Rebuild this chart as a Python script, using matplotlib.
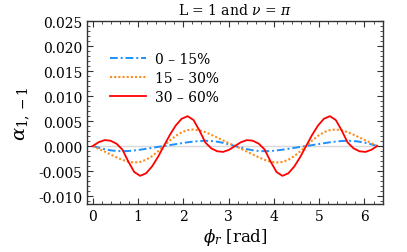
import numpy as np
import matplotlib
matplotlib.use('Agg')
import matplotlib.pyplot as plt
from matplotlib.ticker import MultipleLocator, FormatStrFormatter

plt.rcParams['font.family'] = 'DejaVu Serif'
plt.rcParams['mathtext.fontset'] = 'dejavuserif'

# sampling grid in phi_r, 0 .. 2pi
phi = np.linspace(0, 2 * np.pi, 49)

labels = ['0 \u2013 15%', '15 \u2013 30%', '30 \u2013 60%']

# values, units of 1e-3
a_0_15 = [0.00, -0.33, -0.63, -0.86, -1.00, -1.04, -1.00, -0.89, -0.74, -0.56, -0.37, -0.18,
          0.00, 0.18, 0.37, 0.56, 0.74, 0.89, 1.00, 1.04, 1.00, 0.86, 0.63, 0.33,
          0.00, -0.33, -0.63, -0.86, -1.00, -1.04, -1.00, -0.89, -0.74, -0.56, -0.37, -0.18,
          0.00, 0.18, 0.37, 0.56, 0.74, 0.89, 1.00, 1.04, 1.00, 0.86, 0.63, 0.33, 0.00]
a_15_30 = [0.00, -0.55, -1.11, -1.69, -2.26, -2.77, -3.14, -3.30, -3.18, -2.75, -2.03, -1.08,
           0.00, 1.08, 2.03, 2.75, 3.18, 3.30, 3.14, 2.77, 2.26, 1.69, 1.11, 0.55,
           0.00, -0.55, -1.11, -1.69, -2.26, -2.77, -3.14, -3.30, -3.18, -2.75, -2.03, -1.08,
           0.00, 1.08, 2.03, 2.75, 3.18, 3.30, 3.14, 2.77, 2.26, 1.69, 1.11, 0.55, 0.00]
a_30_60 = [0.00, 0.76, 1.18, 1.06, 0.47, -0.70, -3.10, -5.20, -5.97, -5.45, -4.10, -2.20,
           0.00, 2.20, 4.10, 5.45, 5.97, 5.20, 3.10, 0.70, -0.47, -1.06, -1.18, -0.76,
           0.00, 0.76, 1.18, 1.06, 0.47, -0.70, -3.10, -5.20, -5.97, -5.45, -4.10, -2.20,
           0.00, 2.20, 4.10, 5.45, 5.97, 5.20, 3.10, 0.70, -0.47, -1.06, -1.18, -0.76, 0.00]

fig = plt.figure(figsize=(4.07, 2.53), dpi=100)
ax = fig.add_axes([0.2138, 0.1897, 0.7273, 0.7233])

ax.axhline(0, color='#d9d9d9', lw=1.0, zorder=1)
ax.plot(phi, np.array(a_0_15) / 1000, color='#1e90ff', ls=(0, (4, 1.5, 1, 1.5)), lw=1.4, label=labels[0], zorder=3)
ax.plot(phi, np.array(a_15_30) / 1000, color='#ff8c1a', ls=(0, (1, 1)), lw=1.5, label=labels[1], zorder=3)
ax.plot(phi, np.array(a_30_60) / 1000, color='#ff0000', ls='-', lw=1.3, label=labels[2], zorder=4)

ax.set_xlim(-0.126, 6.41)
ax.set_ylim(-0.0116, 0.025)
ax.xaxis.set_major_locator(MultipleLocator(1))
ax.xaxis.set_minor_locator(MultipleLocator(0.2))
ax.yaxis.set_major_locator(MultipleLocator(0.005))
ax.yaxis.set_minor_locator(MultipleLocator(0.001))
ax.yaxis.set_major_formatter(FormatStrFormatter('%.3f'))
ax.tick_params(which='both', direction='in', top=True, right=True, labelsize=10, color='#333333')
ax.tick_params(which='major', length=4, width=0.8)
ax.tick_params(which='minor', length=2, width=0.6)
for s in ax.spines.values():
    s.set_color('#333333')
    s.set_linewidth(1.0)

ax.set_title('L = 1 and $\\nu$ = $\\pi$', fontsize=10, pad=5)
ax.set_xlabel('$\\phi_r$ [rad]', fontsize=12, labelpad=2)
ax.set_ylabel('$\\alpha_{1,-1}$', fontsize=14, labelpad=4)

ax.legend(loc='upper left', bbox_to_anchor=(0.078, 0.83), frameon=False, fontsize=10,
          borderpad=0, borderaxespad=0, handlelength=2.6, handletextpad=0.6, labelspacing=0.36)

fig.savefig('out.png', dpi=100)
